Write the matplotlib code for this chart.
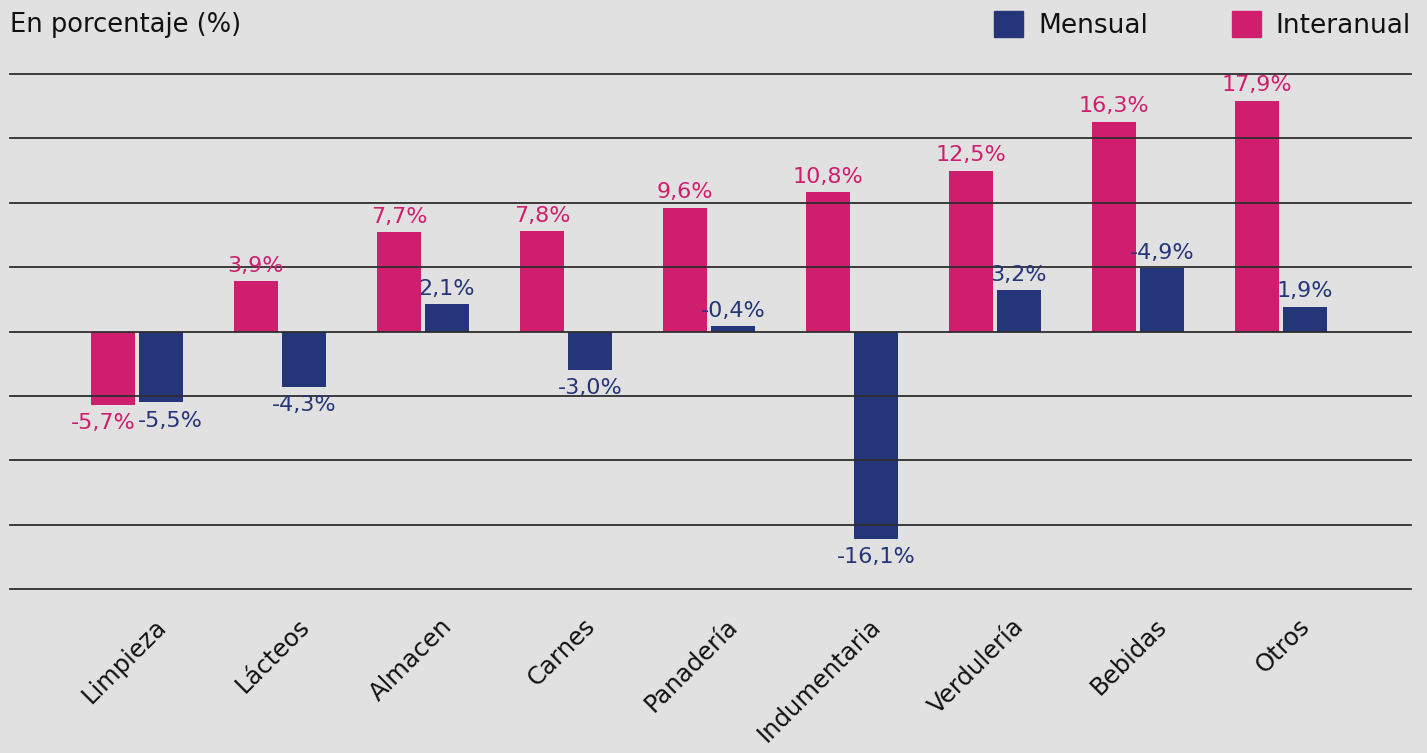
import matplotlib.pyplot as plt
import matplotlib.transforms as mtransforms
import numpy as np
from matplotlib.patches import Patch

categorias = ["Limpieza", "Lácteos", "Almacen", "Carnes", "Panadería",
              "Indumentaria", "Verdulería", "Bebidas", "Otros"]
interanual = [-5.7, 3.9, 7.7, 7.8, 9.6, 10.8, 12.5, 16.3, 17.9]
mensual = [-5.5, -4.3, 2.1, -3.0, 0.4, -16.1, 3.2, 4.9, 1.9]
etiquetas_interanual = ["-5,7%", "3,9%", "7,7%", "7,8%", "9,6%",
                        "10,8%", "12,5%", "16,3%", "17,9%"]
etiquetas_mensual = ["-5,5%", "-4,3%", "2,1%", "-3,0%", "-0,4%",
                     "-16,1%", "3,2%", "-4,9%", "1,9%"]

ROSA = "#d01e6f"
AZUL = "#253579"
FONDO = "#e1e1e1"

plt.rcParams["font.family"] = ["DejaVu Sans"]

fig = plt.figure(figsize=(14.27, 7.53), dpi=100, facecolor=FONDO)
ax = fig.add_axes([10 / 1427, (753 - 589) / 753, 1401 / 1427, 515 / 753])
ax.set_facecolor(FONDO)

x = np.arange(len(categorias))
w = 0.308
off = 0.168
ax.bar(x - off, interanual, w, color=ROSA, zorder=1)
ax.bar(x + off, mensual, w, color=AZUL, zorder=1)


def etiquetar(xs, vals, textos, color, dx0):
    for i, (xi, v, t) in enumerate(zip(xs, vals, textos)):
        # las dos etiquetas de Limpieza se separan un poco para no pisarse
        dx = dx0 if i == 0 else 0
        ax.annotate(t, (xi, v), xytext=(dx, 4 if v > 0 else -6),
                    textcoords="offset points", ha="center",
                    va="bottom" if v > 0 else "top", color=color, fontsize=16)


etiquetar(x - off, interanual, etiquetas_interanual, ROSA, -7)
etiquetar(x + off, mensual, etiquetas_mensual, AZUL, 7)

ax.set_xlim(-0.888, 8.91)
ax.set_ylim(-20, 20)
ax.set_yticks(np.arange(-20, 21, 5))
ax.set_yticklabels([])
ax.tick_params(axis="y", length=0)
ax.grid(axis="y", color="#2e2e2e", lw=1.3, zorder=3)
ax.set_axisbelow(False)
for gl in ax.get_ygridlines():
    gl.set_clip_on(False)
for s in ax.spines.values():
    s.set_visible(False)

ax.set_xticks(x)
ax.set_xticklabels(categorias, rotation=45, ha="right", va="top", fontsize=17.5, color="#111111")
ax.tick_params(axis="x", length=0, pad=18)
shift = mtransforms.ScaledTranslation(0.34, 0, fig.dpi_scale_trans)
for lab in ax.get_xticklabels():
    lab.set_transform(lab.get_transform() + shift)

fig.text(10 / 1427, 1 - 25 / 753, "En porcentaje (%)", fontsize=18.5, color="#111111",
         ha="left", va="center")

handles = [Patch(color=AZUL, label="Mensual"), Patch(color=ROSA, label="Interanual")]
fig.legend(handles=handles, loc="center right", bbox_to_anchor=(1411 / 1427, 1 - 25 / 753),
           ncols=2, frameon=False, fontsize=19, handlelength=1.1, handleheight=1.1,
           handletextpad=0.55, columnspacing=3.2, borderaxespad=0, borderpad=0,
           labelcolor="#111111")

fig.savefig("out.png", dpi=100, facecolor=FONDO)
